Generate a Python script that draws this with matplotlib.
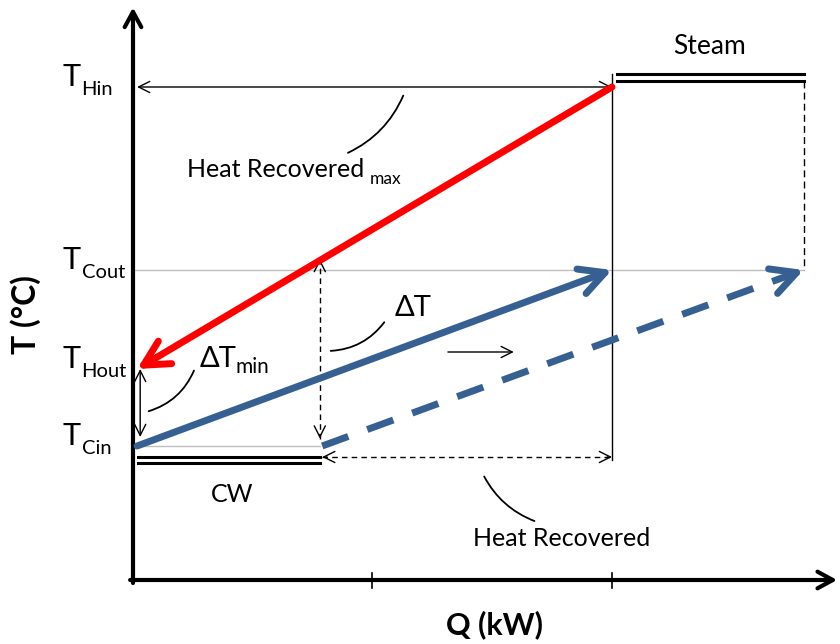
import matplotlib.pyplot as plt
from matplotlib.patches import FancyArrowPatch

plt.rcParams['font.family'] = ['Lato', 'DejaVu Sans']

# temperature levels (arbitrary units)
level_names = ['Hin', 'Cout', 'Hout', 'Cin']
level_temps = [98.6, 62.0, 42.2, 26.8]
T_HIN, T_COUT, T_HOUT, T_CIN = level_temps

# utility double lines
steam_temps = [101.3, 99.9]
cw_temps = [24.6, 23.4]

# heat loads along Q (arbitrary units)
Q_CW = 0.78      # cooling water duty
Q_HR = 2.0       # heat recovered end
Q_STEAM = 2.8    # steam duty end
Q_ticks = [1, 2]

BLUE = '#376092'
GRAY = '#bfbfbf'

fig = plt.figure(figsize=(8.4, 6.44), dpi=100)
ax = fig.add_axes([0, 0, 1, 1])
ax.set_xlim(-0.5553, 2.952)
ax.set_ylim(-12.8, 116)
ax.axis('off')


def arrow(a, b, style, lw=1.0, color='black', ms=20, z=3):
    ax.annotate('', xy=b, xytext=a,
                arrowprops=dict(arrowstyle=style, lw=lw, color=color,
                                shrinkA=0, shrinkB=0, mutation_scale=ms),
                zorder=z)


def leader(a, b, rad):
    p = FancyArrowPatch(a, b, arrowstyle='-', lw=1.3, color='black',
                        connectionstyle='arc3,rad=%s' % rad, zorder=3)
    ax.add_patch(p)


# axes with arrow heads
arrow((0, -0.6), (0, 114.5), '->, head_length=0.55, head_width=0.3', lw=3)
arrow((-0.012, 0), (2.94, 0), '->, head_length=0.55, head_width=0.3', lw=3)
for q in Q_ticks:
    ax.plot([q, q], [-1.6, 1.4], color='black', lw=1.2)

# grey guide lines
ax.plot([0, Q_STEAM], [T_COUT, T_COUT], color=GRAY, lw=1.0, zorder=1)
ax.plot([0, Q_CW], [T_CIN, T_CIN], color=GRAY, lw=1.0, zorder=1)

# steam and cooling water bars
for t in steam_temps:
    ax.plot([Q_HR + 0.02, Q_STEAM], [t, t], color='black', lw=2.2)
for t in cw_temps:
    ax.plot([0.02, Q_CW], [t, t], color='black', lw=2.2)

# verticals
ax.plot([Q_HR, Q_HR], [steam_temps[0], 24.0], color='black', lw=1.0)
ax.plot([Q_STEAM, Q_STEAM], [steam_temps[1], T_COUT], color='black', lw=1.0,
        ls=(0, (5, 3)))

# hot stream (red) and cold stream (blue)
big = '->, head_length=0.9, head_width=0.47'
arrow((Q_HR, T_HIN), (0.017, T_HOUT), big, lw=5, color='red', z=4)
arrow((0.017, T_CIN), (Q_HR, T_COUT), big, lw=5, color=BLUE, z=4)

# shifted cold stream (dashed)
q0, t0 = Q_CW + 0.01, T_CIN
ax.plot([q0, Q_STEAM - 0.04], [t0, T_COUT - (T_COUT - t0) * 0.04 / (Q_STEAM - q0)],
        color=BLUE, lw=5, ls=(0, (4, 2.9)), zorder=4)
back = 0.06
arrow((Q_STEAM - back, T_COUT - (T_COUT - t0) * back / (Q_STEAM - q0)),
      (Q_STEAM, T_COUT), big, lw=5, color=BLUE, z=4)

small = '->, head_length=0.4, head_width=0.2'
both = '<->, head_length=0.4, head_width=0.2'

# heat recovered max (solid double arrow)
arrow((0.017, T_HIN), (Q_HR, T_HIN), both, lw=1.0)

# delta T min
arrow((0.03, T_HOUT), (0.03, T_CIN + 1.8), both, lw=1.0)

# delta T (dashed double arrow)
t_red = T_HOUT + (T_HIN - T_HOUT) * Q_CW / Q_HR
ax.plot([Q_CW, Q_CW], [T_CIN + 1.5, t_red], color='black', lw=1.0, ls=(0, (4, 3)))
arrow((Q_CW, t_red - 0.8), (Q_CW, t_red), small)
arrow((Q_CW, T_CIN + 2.3), (Q_CW, T_CIN + 1.5), small)

# heat recovered (dashed double arrow)
ax.plot([Q_CW + 0.01, Q_HR], [cw_temps[0], cw_temps[0]], color='black', lw=1.0,
        ls=(0, (4, 3)))
arrow((Q_CW + 0.03, cw_temps[0]), (Q_CW + 0.01, cw_temps[0]), small)
arrow((Q_HR - 0.02, cw_temps[0]), (Q_HR, cw_temps[0]), small)

# shift arrow
arrow((1.315, 45.6), (1.59, 45.6), small, lw=1.0)

# leaders
leader((0.887, 85.2), (1.133, 97.4), 0.2)
leader((0.814, 45.8), (1.056, 52.0), 0.25)
leader((0.054, 33.6), (0.259, 42.4), 0.25)
leader((1.461, 21.2), (1.687, 11.6), 0.2)

# text labels
for name, t in zip(level_names, level_temps):
    ax.annotate('T', xy=(-0.295, t), xytext=(0, 1), textcoords='offset points',
                fontsize=22, va='baseline', ha='left')
    ax.annotate(name, xy=(-0.215, t), xytext=(0, -5.5), textcoords='offset points',
                fontsize=14.5, va='baseline', ha='left')

ax.text(2.409, 106.8, 'Steam', fontsize=19, ha='center', va='center')
ax.text(0.413, 17.0, 'CW', fontsize=18, ha='center', va='center')
ax.text(1.79, 8.4, 'Heat Recovered', fontsize=18, ha='center', va='center')

ax.text(0.225, 80.6, 'Heat Recovered', fontsize=18, ha='left', va='baseline')
ax.text(0.99, 79.3, 'max', fontsize=12.5, ha='left', va='baseline')

ax.text(1.094, 52.8, '\u0394T', fontsize=21, ha='left', va='baseline')
ax.text(0.28, 42.6, '\u0394T', fontsize=21, ha='left', va='baseline')
ax.text(0.43, 41.4, 'min', fontsize=15, ha='left', va='baseline')

ax.text(-0.45, 53.0, 'T (\u00b0C)', fontsize=23, fontweight='bold',
        rotation=90, ha='center', va='center')
ax.text(1.51, -9.0, 'Q (kW)', fontsize=22, fontweight='bold',
        ha='center', va='center')

fig.savefig('out.png', dpi=100)
